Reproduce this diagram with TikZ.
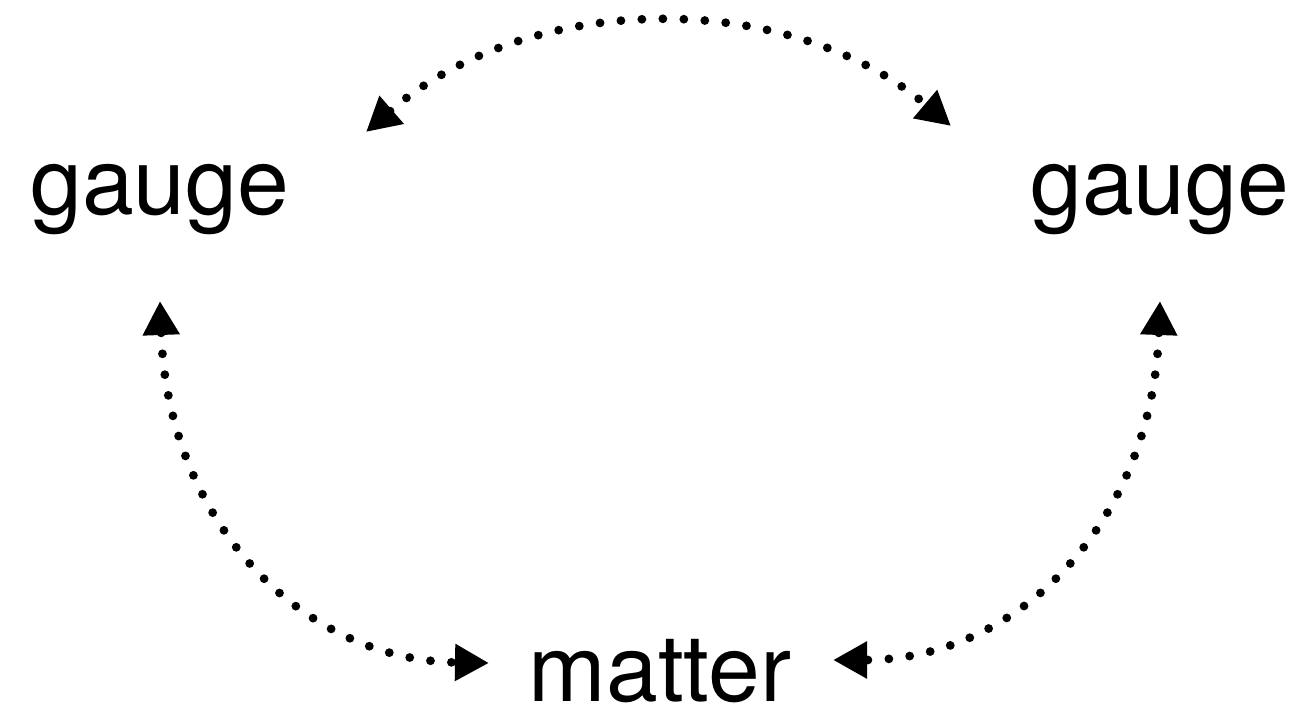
\documentclass[tikz,border=0pt]{standalone}
\usepackage{fontspec}
\setmainfont{TeX Gyre Heros}
\usetikzlibrary{arrows.meta,calc,positioning}

\begin{document}
\begin{tikzpicture}[x=0.02cm, y=-0.02cm,
  word/.style={font=\fontsize{53}{60}\selectfont, inner sep=0pt, anchor=base},
  link/.style={line width=5pt, line cap=round, dash pattern=on 0pt off 0.42cm,
    {Triangle[length=0.68cm,width=0.7cm]}-{Triangle[length=0.68cm,width=0.7cm]}}]
\useasboundingbox (0,0) rectangle (1311,717);
% labels
\node[word] (gaugeL) at (160,214) {gauge};
\node[word] (gaugeR) at (1160,214) {gauge};
\node[word] (matter) at (660,701) {matter};
% arrow ends
\coordinate (topL) at (366,132);
\coordinate (topR) at (951,126);
\coordinate (sideL) at (160,301);
\coordinate (sideR) at (1160,301);
\coordinate (botL) at (489,663);
\coordinate (botR) at (833,660);
% connectors
\draw[link] (topL) .. controls (530,-10) and (788,-12) .. (topR);
\draw[link] (sideL) .. controls (168,520) and (300,660) .. (botL);
\draw[link] (sideR) .. controls (1152,520) and (1020,660) .. (botR);
\end{tikzpicture}
\end{document}
